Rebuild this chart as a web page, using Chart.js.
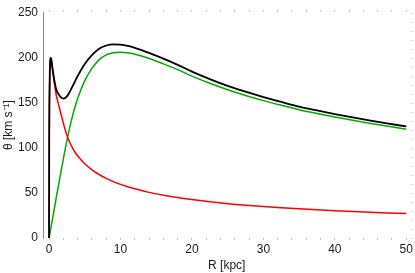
<!DOCTYPE html>
<html><head><meta charset="utf-8">
<script src="https://cdn.jsdelivr.net/npm/chart.js@4.4.1/dist/chart.umd.min.js"></script>
<style>html,body{margin:0;padding:0;background:#fff;}#wrap{width:415px;height:273px;}</style>
</head><body><div id="wrap"><canvas id="c" width="415" height="273"></canvas></div>
<script>
// Radius in kpc
const radius = [0,0.02,0.05,0.1,0.15,0.2,0.25,0.3,0.4,0.5,0.6,0.8,1,1.3,1.6,2,2.5,3,3.5,4,5,6,7,8,9,10,11,12,14,16,18,20,22.5,25,27.5,30,32.5,35,37.5,40,42.5,45,47.5,50];
// Total rotation curve (black)
const totalCurve = [0,107.6,152.5,183.1,195.3,199.5,200.1,198.7,193.6,187.5,181.9,172.6,165.1,160.2,157.0,154.9,157.4,164.1,172.0,180.0,193.5,203.2,210.3,214.0,215.3,214.9,213.5,211.4,205.8,199.4,192.5,185.0,176.7,169.2,162.6,156.7,151.3,146.1,141.8,137.8,134.1,130.6,127.2,124.0];
// Disk component (green)
const diskCurve = [0,0.9,2.2,4.4,6.6,8.8,11,13.2,17.6,22,26.4,35.2,44.5,57.5,71,88,108.5,126.5,142,155,175,188.5,198,203.5,206,206.5,205.8,204.2,199.5,193.6,187.2,180,172,164.8,158.4,152.7,147.5,142.5,138.3,134.4,130.8,127.4,124.1,121];
// Bulge component (red)
const bulgeCurve = [0,107.6,152.5,183,195.2,199.3,199.8,198.3,192.8,186.2,180,169,159,149.5,140,127.5,114,104.5,97,91.5,82.5,75.8,70.6,66.3,62.7,59.6,57,54.7,50.7,47.6,44.9,42.7,40.3,38.2,36.5,35,33.6,32.4,31.3,30.3,29.4,28.6,27.9,27.2];
// Tick labels
const xTickLabels = [0,10,20,30,40,50];
const xMinorTicks = [0,2,4,6,8,10,12,14,16,18,20,22,24,26,28,30,32,34,36,38,40,42,44,46,48,50];
const yTickLabels = [0,50,100,150,200,250];
const yMinorTicks = [0,10,20,30,40,50,60,70,80,90,100,110,120,130,140,150,160,170,180,190,200,210,220,230,240,250];

const pts = arr => radius.map((r, i) => ({x: r, y: arr[i]}));
const font = {family: '"Liberation Sans", Arial, sans-serif', size: 12};
const txt = '#1a1a1a';
const tickCol = '#c4c4c4';

new Chart(document.getElementById('c'), {
  type: 'line',
  data: {
    datasets: [
      {data: pts(totalCurve), borderColor: '#000000', borderWidth: 1.8, order: 1},
      {data: pts(bulgeCurve), borderColor: '#ff0000', borderWidth: 1.5, order: 2},
      {data: pts(diskCurve), borderColor: '#00aa00', borderWidth: 1.5, order: 3}
    ]
  },
  options: {
    responsive: false,
    animation: false,
    devicePixelRatio: 1,
    layout: {padding: 0},
    elements: {point: {radius: 0}, line: {cubicInterpolationMode: 'monotone', fill: false}},
    plugins: {legend: {display: false}, tooltip: {enabled: false}},
    scales: {
      x: {
        type: 'linear', position: 'bottom', min: -0.85, max: 50.6,
        afterBuildTicks: s => { s.ticks = xMinorTicks.map(v => ({value: v})); },
        ticks: {autoSkip: false, maxRotation: 0, padding: 2, font: font, color: txt,
          callback: v => xTickLabels.includes(v) ? String(v) : ''},
        grid: {drawOnChartArea: false, drawTicks: true, tickLength: 2, color: tickCol},
        border: {display: false},
        title: {display: true, text: 'R [kpc]', font: font, color: txt, padding: {top: 0, bottom: 0}},
        afterFit: s => { s.height = 35; }
      },
      x2: {
        type: 'linear', position: 'top', min: -0.85, max: 50.6,
        afterBuildTicks: s => { s.ticks = xMinorTicks.map(v => ({value: v})); },
        ticks: {display: false},
        grid: {drawOnChartArea: false, drawTicks: true, tickLength: 2, color: tickCol},
        border: {display: false},
        afterFit: s => { s.height = 7; }
      },
      y: {
        type: 'linear', position: 'left', min: 0, max: 251,
        afterBuildTicks: s => { s.ticks = yTickLabels.map(v => ({value: v})); },
        ticks: {padding: 5, font: font, color: txt, callback: v => String(v)},
        grid: {display: false, drawTicks: false},
        border: {display: true, color: '#8c8c8c', width: 1},
        title: {display: true, text: 'θ [km s⁻¹]', font: font, color: txt, padding: {top: 1, bottom: 0}},
        afterFit: s => { s.width = 43; }
      },
      y2: {
        type: 'linear', position: 'right', min: 0, max: 251,
        afterBuildTicks: s => { s.ticks = yMinorTicks.map(v => ({value: v})); },
        ticks: {display: false},
        grid: {drawOnChartArea: false, drawTicks: true, tickLength: 2, color: tickCol},
        border: {display: false},
        afterFit: s => { s.width = 3; }
      }
    }
  }
});
</script>
</body></html>
